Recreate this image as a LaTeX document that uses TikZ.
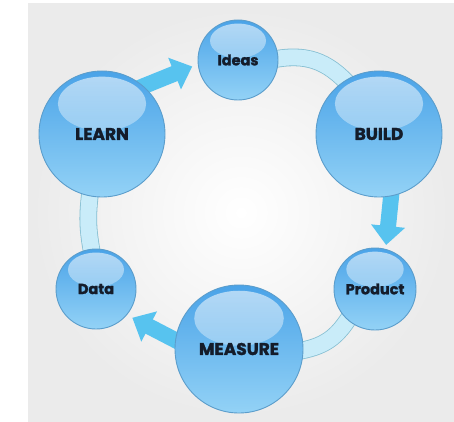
\documentclass[tikz,border=0pt]{standalone}
\usepackage{fontspec}
\setmainfont{Poppins}[BoldFeatures={FakeBold=1.6}]
\usetikzlibrary{arrows.meta,fadings,calc}
\definecolor{ballline}{HTML}{5B9DCB}
\definecolor{balltop}{HTML}{4AA3E8}
\definecolor{ballbot}{HTML}{93D2F6}
\definecolor{arrowcol}{HTML}{57C3EF}
\definecolor{bandfill}{HTML}{C9ECF9}
\definecolor{bandline}{HTML}{86BFD2}
\definecolor{txtcol}{HTML}{141C2A}
\pgfdeclarelayer{back}
\pgfdeclarelayer{links}
\pgfsetlayers{back,links,main}
\begin{document}
\begin{tikzpicture}[x=1pt,y=1pt,
  ball/.style={circle, draw=ballline, line width=0.9pt, inner sep=0pt,
    minimum size=#1, top color=balltop, bottom color=ballbot, text=txtcol,
    path picture={\path let \p1=(path picture bounding box.north),
        \p2=(path picture bounding box.center), \n1={\y1-\y2} in
        [fill=white, fill opacity=0.6, path fading=south]
        (\x2,\y2+0.48*\n1) ellipse [x radius=0.7*\n1, y radius=0.43*\n1];}},
  bigtxt/.style={font=\bfseries\fontsize{17}{18}\selectfont},
  smalltxt/.style={font=\bfseries\fontsize{14.5}{15}\selectfont},
  band/.style={draw=bandline, line width=0.8pt, double=bandfill,
    double distance=16pt, shorten <=-8pt, shorten >=-8pt},
  blockarrow/.style={draw=arrowcol, line width=16pt, shorten <=-8pt,
    -{Triangle[length=19pt,width=33pt]}}
]
\useasboundingbox (0,0) rectangle (454,421);
\begin{pgfonlayer}{back}
  \fill[white] (0,0) rectangle (454,421);
  \shade[inner color=white, outer color=black!8] (28,0) rectangle (454,417);
\end{pgfonlayer}

\node[ball=80pt, smalltxt] (ideas) at (238,361) {Ideas};
\node[ball=126pt, bigtxt] (build) at (379,287) {BUILD};
\node[ball=82pt, smalltxt] (product) at (375,132) {Product};
\node[ball=128pt, bigtxt] (measure) at (239,72) {MEASURE};
\node[ball=80pt, smalltxt] (data) at (96,132) {Data};
\node[ball=126pt, bigtxt] (learn) at (102,287) {LEARN};

\begin{pgfonlayer}{links}
  \draw[band] (ideas) to[bend left=30] (build);
  \draw[band] (product) to[bend left=25] (measure);
  \draw[band] (data) to[bend left=9] (learn);
  \draw[blockarrow, shorten >=6pt] (learn.49) -- (ideas.186);
  \draw[blockarrow, shorten >=4pt] (build.-79) -- (product.75);
  \draw[blockarrow, shorten >=6pt] (measure.172) -- (data.-40);
\end{pgfonlayer}
\end{tikzpicture}
\end{document}
